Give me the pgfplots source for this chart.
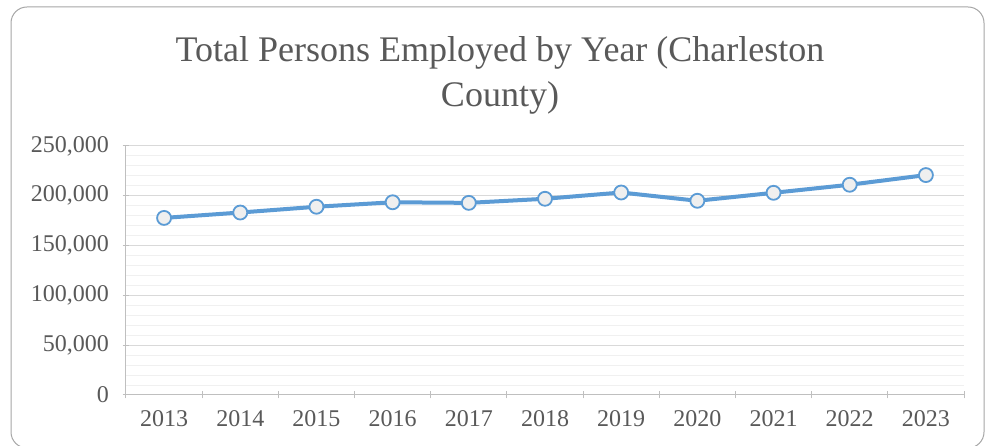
\documentclass[border=0pt]{standalone}
\usepackage{pgfplots}
\pgfplotsset{compat=1.18}
\usepackage{fontspec}
\setmainfont{Liberation Serif}
\definecolor{txt}{HTML}{595959}
\definecolor{axl}{HTML}{BFBFBF}
\definecolor{majg}{HTML}{D9D9D9}
\definecolor{ming}{HTML}{F0F0F0}
\definecolor{ser}{HTML}{5B9BD5}
\definecolor{mfill}{HTML}{EFEFEF}
\definecolor{frame}{HTML}{A6A6A6}
\begin{document}
\begin{tikzpicture}[x=1pt,y=1pt]
\path[use as bounding box] (0,0) rectangle (989,446);
\fill[white] (0,0) rectangle (989,446);
\draw[frame, line width=1pt, rounded corners=16pt] (11,-2) rectangle (984,439);
\node[text=txt, font=\fontsize{36}{45}\selectfont, align=center, anchor=base] at (500,339)
  {Total Persons Employed by Year (Charleston\\County)};
\begin{axis}[
  at={(126pt,51pt)}, anchor=south west,
  scale only axis, width=838pt, height=249pt,
  xmin=-0.5, xmax=10.5, ymin=0, ymax=250000,
  xtick={0,...,10},
  xticklabels={2013,2014,2015,2016,2017,2018,2019,2020,2021,2022,2023},
  minor xtick={-0.5,0.5,...,10.5},
  ytick={0,50000,...,250000},
  minor ytick={10000,20000,...,240000},
  major x tick style={draw=none},
  minor y tick style={draw=none},
  major tick length=7pt, minor tick length=7pt,
  tick align=outside,
  tick style={axl, line width=1pt},
  axis lines=left,
  axis line style={-, axl, line width=1pt},
  ymajorgrids, yminorgrids,
  major grid style={majg, line width=1pt},
  minor grid style={ming, line width=1pt},
  scaled y ticks=false,
  /pgf/number format/assume math mode=true,
  yticklabel={\pgfmathprintnumber[fixed, 1000 sep={,}]{\tick}},
  ticklabel style={text=txt, font=\fontsize{24}{28}\selectfont},
  yticklabel style={xshift=-10pt},
  xticklabel style={yshift=-9pt},
  clip=false,
]
\addplot[ser, line width=4pt, mark=*, mark size=7pt,
  mark options={fill=mfill, draw=ser, line width=1.8pt}]
  coordinates {(0,177800) (1,183200) (2,189000) (3,193500) (4,192900) (5,197000)
               (6,203300) (7,195000) (8,203000) (9,211100) (10,220800)};
\end{axis}
\end{tikzpicture}
\end{document}
